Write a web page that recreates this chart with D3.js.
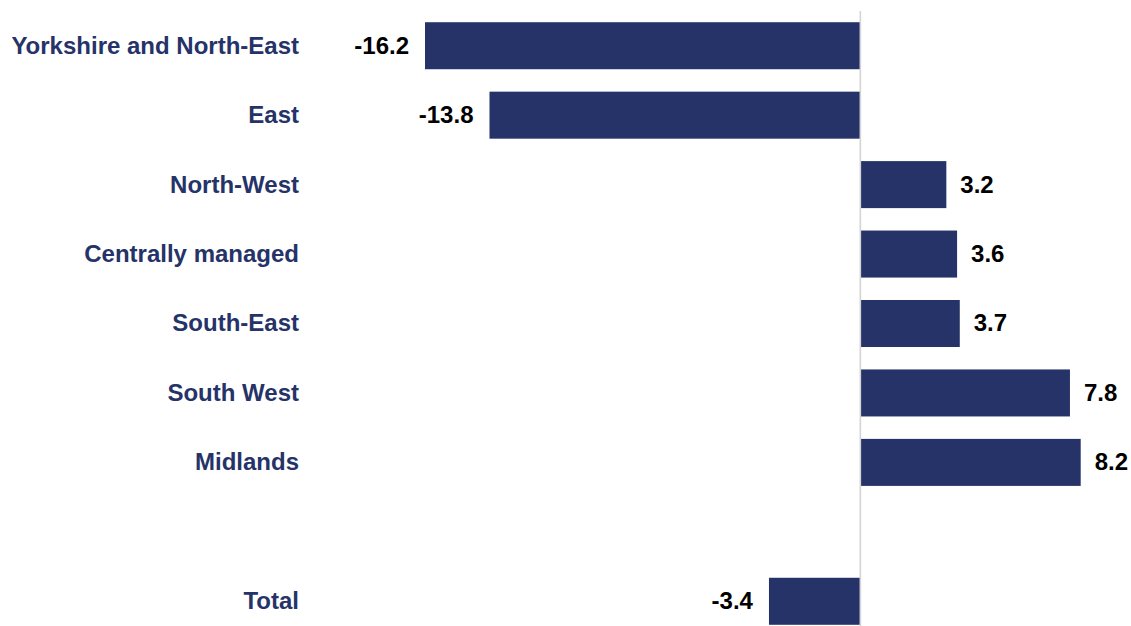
<!DOCTYPE html>
<html>
<head>
<meta charset="utf-8">
<script src="https://cdn.jsdelivr.net/npm/d3@7"></script>
<style>
  html, body { margin: 0; padding: 0; background: #ffffff; }
  svg { display: block; }
  text { font-family: "Liberation Sans", Arial, sans-serif; font-weight: bold; }
</style>
</head>
<body>
<svg id="chart" width="1131" height="626"></svg>
<script>
// Regions, top to bottom; the empty slot leaves a gap above the total row
const regions = ["Yorkshire and North-East", "East", "North-West", "Centrally managed",
                 "South-East", "South West", "Midlands", "", "Total"];
const changes = [-16.2, -13.8, 3.2, 3.6, 3.7, 7.8, 8.2, null, -3.4];

const W = 1131, H = 626;
const navy = "#253368";
const fontSize = 24;

const svg = d3.select("#chart");

const rows = regions.map((r, i) => ({ key: "r" + i, label: r, value: changes[i] }));

const x = d3.scaleLinear().domain([-16.2, 8.2]).range([425, 1080.7]);
const y = d3.scaleBand()
  .domain(rows.map(d => d.key))
  .range([11, 636])
  .paddingInner(0.323)
  .paddingOuter(0.1615);

// one decimal, plain hyphen for negatives
const fmt = d3.formatLocale({ decimal: ".", thousands: ",", grouping: [3],
                              currency: ["", ""], minus: "-" }).format(".1f");
const bars = rows.filter(d => d.value !== null);

// Bars
svg.append("g").selectAll("rect")
  .data(bars)
  .join("rect")
  .attr("x", d => x(Math.min(0, d.value)))
  .attr("width", d => Math.abs(x(d.value) - x(0)))
  .attr("y", d => y(d.key))
  .attr("height", y.bandwidth())
  .attr("fill", navy);

// Zero line
svg.append("line")
  .attr("x1", x(0)).attr("x2", x(0))
  .attr("y1", 11).attr("y2", H)
  .attr("stroke", "#d4d4d4")
  .attr("stroke-width", 1.6);

// Category axis labels
svg.append("g").selectAll("text")
  .data(rows.filter(d => d.label))
  .join("text")
  .attr("x", 299)
  .attr("y", d => y(d.key) + y.bandwidth() / 2)
  .attr("dy", "0.33em")
  .attr("text-anchor", "end")
  .attr("font-size", fontSize)
  .attr("fill", navy)
  .text(d => d.label);

// Value labels
svg.append("g").selectAll("text")
  .data(bars)
  .join("text")
  .attr("x", d => d.value < 0 ? x(d.value) - 16 : x(d.value) + 14)
  .attr("y", d => y(d.key) + y.bandwidth() / 2)
  .attr("dy", "0.33em")
  .attr("text-anchor", d => d.value < 0 ? "end" : "start")
  .attr("font-size", fontSize)
  .attr("fill", "#000000")
  .text(d => fmt(d.value));
</script>
</body>
</html>
